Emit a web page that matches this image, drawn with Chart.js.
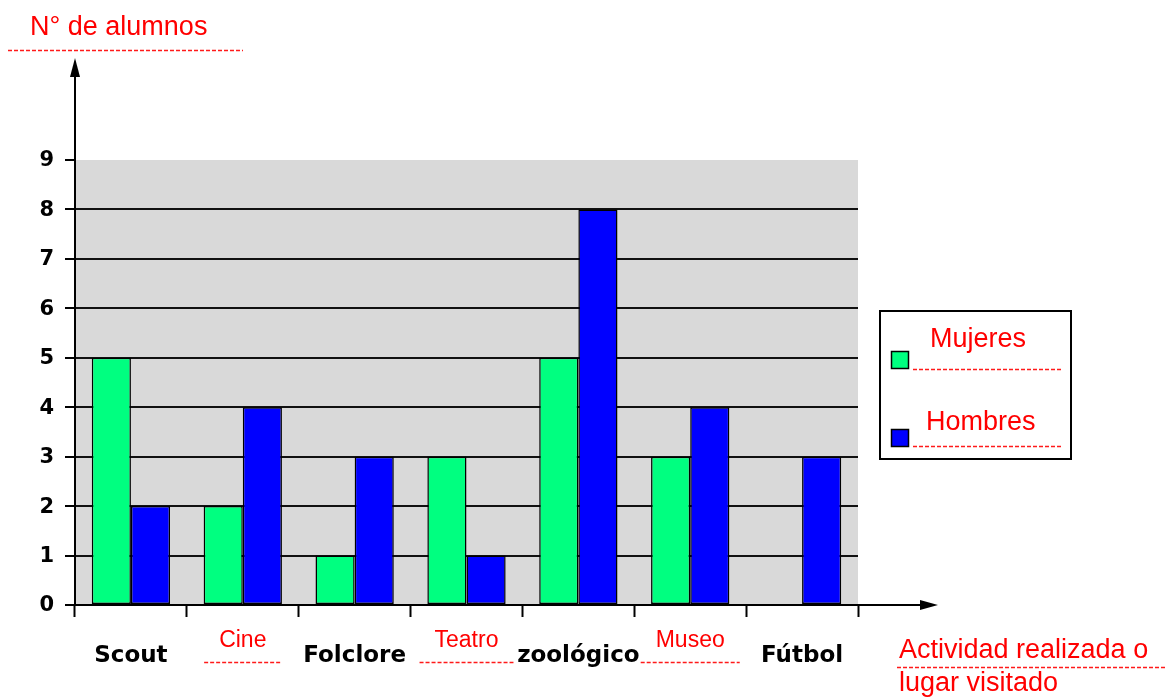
<!DOCTYPE html>
<html lang="es">
<head>
  <meta charset="UTF-8" />
  <title>N° de alumnos por actividad</title>
  <script src="https://cdn.jsdelivr.net/npm/chart.js"></script>
  <style>
    body { margin: 0; background: #fff; }
    #wrap { width: 1166px; height: 698px; }
  </style>
</head>
<body>
  <div id="wrap">
    <canvas id="alumnosChart" width="1166" height="698"></canvas>
  </div>

  <script>
    const categories = ['Scout', 'Cine', 'Folclore', 'Teatro', 'zoológico', 'Museo', 'Fútbol'];
    const mujeres = [5, 2, 1, 3, 5, 3, 0];
    const hombres = [2, 4, 3, 1, 8, 4, 3];
    const yTickValues = [0, 1, 2, 3, 4, 5, 6, 7, 8, 9];
    const underlinedCats = ['Cine', 'Teatro', 'Museo'];

    const RED = '#ff0000';
    const boldFont = 'bold 23px "DejaVu Sans"';
    const redFont = '27px "Liberation Sans"';

    function dashedLine(ctx, x1, x2, y) {
      ctx.save();
      ctx.strokeStyle = '#ff1a1a';
      ctx.lineWidth = 1.5;
      ctx.setLineDash([4, 2]);
      ctx.beginPath();
      ctx.moveTo(x1, y + 0.5);
      ctx.lineTo(x2, y + 0.5);
      ctx.stroke();
      ctx.restore();
    }

    // gray plot background under the grid
    const plotBg = {
      id: 'plotBg',
      beforeDraw(chart) {
        const { ctx, chartArea: a } = chart;
        ctx.save();
        ctx.fillStyle = '#d9d9d9';
        ctx.fillRect(a.left, a.top, a.right - a.left, a.bottom - a.top);
        ctx.restore();
      }
    };

    // axes with arrows, labels, titles and the hand-made legend
    const decor = {
      id: 'decor',
      afterDraw(chart) {
        const { ctx, chartArea: a } = chart;
        const xs = chart.scales.x, ys = chart.scales.y;
        ctx.save();

        // axes
        ctx.strokeStyle = '#000';
        ctx.fillStyle = '#000';
        ctx.lineWidth = 2;
        ctx.beginPath();
        ctx.moveTo(a.left, a.bottom);
        ctx.lineTo(a.left, 70);
        ctx.moveTo(a.left, a.bottom);
        ctx.lineTo(924, a.bottom);
        ctx.stroke();
        ctx.beginPath();
        ctx.moveTo(a.left, 58);
        ctx.lineTo(a.left - 5, 77);
        ctx.lineTo(a.left + 5, 77);
        ctx.closePath();
        ctx.fill();
        ctx.beginPath();
        ctx.moveTo(938, a.bottom);
        ctx.lineTo(920, a.bottom - 5);
        ctx.lineTo(920, a.bottom + 5);
        ctx.closePath();
        ctx.fill();

        // y tick labels
        ctx.font = 'bold 21px "DejaVu Sans"';
        ctx.textAlign = 'right';
        ctx.textBaseline = 'middle';
        yTickValues.forEach(v => {
          ctx.fillText(String(v), 54, ys.getPixelForValue(v) + 1);
        });

        // x category labels
        ctx.textAlign = 'center';
        categories.forEach((c, i) => {
          const x = xs.getPixelForValue(i);
          if (underlinedCats.includes(c)) {
            ctx.font = '23px "Liberation Sans"';
            ctx.fillStyle = RED;
            ctx.fillText(c, x, 641);
            const w = ctx.measureText(c).width + 30;
            dashedLine(ctx, x - w / 2, x + w / 2, 662);
          } else {
            ctx.font = boldFont;
            ctx.fillStyle = '#000';
            ctx.fillText(c, x, 656);
          }
        });

        // axis titles
        ctx.font = redFont;
        ctx.fillStyle = RED;
        ctx.textAlign = 'left';
        ctx.fillText('N° de alumnos', 30, 28);
        dashedLine(ctx, 8, 243, 50);
        ctx.fillText('Actividad realizada o', 899, 651);
        ctx.fillText('lugar visitado', 899, 684);
        dashedLine(ctx, 897, 1166, 667);

        // legend
        ctx.strokeStyle = '#000';
        ctx.lineWidth = 2;
        ctx.strokeRect(880, 311, 191, 148);
        const items = chart.data.datasets;
        const rows = [{ sq: 351, ty: 340, tx: 930, uy: 369 }, { sq: 429, ty: 423, tx: 926, uy: 446 }];
        items.forEach((ds, i) => {
          const r = rows[i];
          ctx.fillStyle = ds.backgroundColor;
          ctx.fillRect(891, r.sq, 18, 18);
          ctx.lineWidth = 1.5;
          ctx.strokeRect(891.5, r.sq + 0.5, 17, 17);
          ctx.fillStyle = RED;
          ctx.font = redFont;
          ctx.fillText(ds.label, r.tx, r.ty);
          dashedLine(ctx, 913, 1062, r.uy);
        });

        ctx.restore();
      }
    };

    new Chart(document.getElementById('alumnosChart'), {
      type: 'bar',
      data: {
        labels: categories,
        datasets: [
          {
            label: 'Mujeres',
            data: mujeres,
            backgroundColor: '#00ff80',
            borderColor: '#000',
            borderWidth: 1.5,
            borderSkipped: false
          },
          {
            label: 'Hombres',
            data: hombres,
            backgroundColor: '#0000ff',
            borderColor: '#000',
            borderWidth: 1.5,
            borderSkipped: false
          }
        ]
      },
      options: {
        responsive: false,
        animation: false,
        layout: { padding: { left: 65, top: 160, right: 308, bottom: 81 } },
        datasets: { bar: { categoryPercentage: 0.7, barPercentage: 1 } },
        plugins: { legend: { display: false }, tooltip: { enabled: false } },
        scales: {
          x: {
            ticks: { display: false },
            border: { display: false },
            grid: {
              drawOnChartArea: false,
              drawTicks: true,
              tickLength: 12,
              tickColor: '#000',
              tickWidth: 2
            }
          },
          y: {
            min: 0,
            max: 9,
            ticks: { display: false, stepSize: 1 },
            border: { display: false },
            grid: {
              color: ctx => (ctx.tick && ctx.tick.value === 9 ? 'rgba(0,0,0,0)' : '#111'),
              lineWidth: 2,
              tickColor: '#000',
              tickWidth: 2,
              tickLength: 10
            }
          }
        }
      },
      plugins: [plotBg, decor]
    });
  </script>
</body>
</html>
